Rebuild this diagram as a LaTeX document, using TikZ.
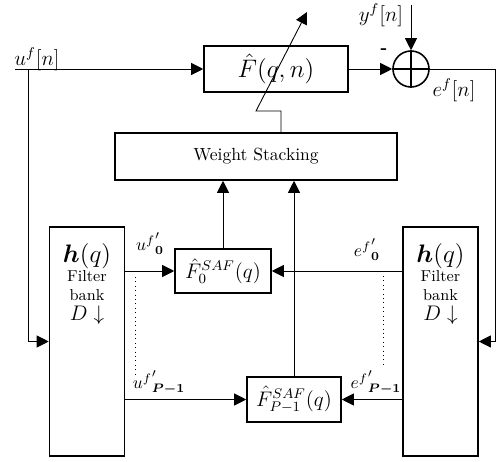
\documentclass[tikz,border=0pt]{standalone}
\usepackage{amsmath}
\usetikzlibrary{arrows.meta}

\begin{document}
\begin{tikzpicture}[x=0.02cm,y=-0.02cm,
    block/.style={draw,line width=0.9pt,inner sep=0pt},
    bank/.style={block,minimum width=1.5cm,minimum height=4.58cm},
    banktext/.style={anchor=north,align=center,font=\small,inner sep=1pt},
    sig/.style={font=\large},
    arr/.style={-{Triangle[length=0.24cm,width=0.24cm]},line width=0.5pt},
    conn/.style={line width=0.5pt}]
    \useasboundingbox (0,0) rectangle (496,462);

    % Blocks
    \node[block,minimum width=2.88cm,minimum height=0.92cm,font=\Large] (F) at (276,69) {$\hat{F}(q,n)$};
    \node[draw,circle,line width=0.9pt,minimum size=0.72cm,inner sep=0pt] (sum) at (411,69) {};
    \draw[line width=0.9pt] (sum.north) -- (sum.south) (sum.west) -- (sum.east);
    \node[block,minimum width=5.64cm,minimum height=0.94cm] (WS) at (256,156.5) {Weight Stacking};
    \node[bank] (lbank) at (87,341.5) {};
    \node[bank] (rbank) at (440.5,341.5) {};
    \node[block,minimum width=1.92cm,minimum height=0.88cm,font=\large] (F0) at (223,271) {$\hat{F}^{SAF}_{0}(q)$};
    \node[block,minimum width=1.88cm,minimum height=0.9cm,font=\large] (FP) at (294,399.5) {$\hat{F}^{SAF}_{P-1}(q)$};

    % Filter bank texts
    \foreach \b in {lbank,rbank}
        \node[banktext] (\b txt) at ([yshift=-0.3cm]\b.north)
            {{\Large$\boldsymbol{h}(q)$}\\Filter\\bank\\{\large$D\downarrow$}};

    % Free ends
    \coordinate (uin) at (15,69);
    \coordinate (ubr) at (28,69);
    \coordinate (yin) at (411,5);
    \coordinate (eout) at (495,69);
    \coordinate (bend) at (256,111);
    \coordinate (tune) at (307,12);

    % Top path
    \draw[arr] (uin) -- (F.west);
    \draw[arr] (ubr) |- (lbank.west);
    \draw[arr] (F.east) -- (sum.west);
    \draw[arr] (yin) -- (sum.north);
    \draw[arr] (sum.east) -- (eout) |- (rbank.east);
    \draw[arr] ([xshift=0.5cm]WS.north) |- (bend) -- (tune);

    % Subbands
    \draw[arr] (lbank.east |- F0.west) -- (F0.west);
    \draw[arr] (rbank.west |- F0.east) -- (F0.east);
    \draw[arr] (lbank.east |- FP.west) -- (FP.west);
    \draw[arr] (rbank.west |- FP.east) -- (FP.east);
    \draw[arr] (F0.north) -- (F0.north |- WS.south);
    \draw[arr] (FP.north) -- (FP.north |- WS.south);

    % Dotted lines
    \draw[dotted,conn] (135,277) -- (135,375);
    \draw[dotted,conn] (383,276) -- (383,368);

    % Labels
    \node[sig] (ulab) at (37,59) {$u^{f}[n]$};
    \node[sig] (ylab) at (381,15) {$y^{f}[n]$};
    \node (minus) at (384,51) {\bfseries -};
    \node[sig] (elab) at (454,90) {$e^{f}[n]$};
    \node (u0lab) at (150,244) {${u^{f}}'_{\boldsymbol{0}}$};
    \node (uPlab) at (159,383) {${u^{f}}'_{\boldsymbol{P-1}}$};
    \node (e0lab) at (367,250) {${e^{f}}'_{\boldsymbol{0}}$};
    \node (ePlab) at (376,383) {${e^{f}}'_{\boldsymbol{P-1}}$};
\end{tikzpicture}
\end{document}
